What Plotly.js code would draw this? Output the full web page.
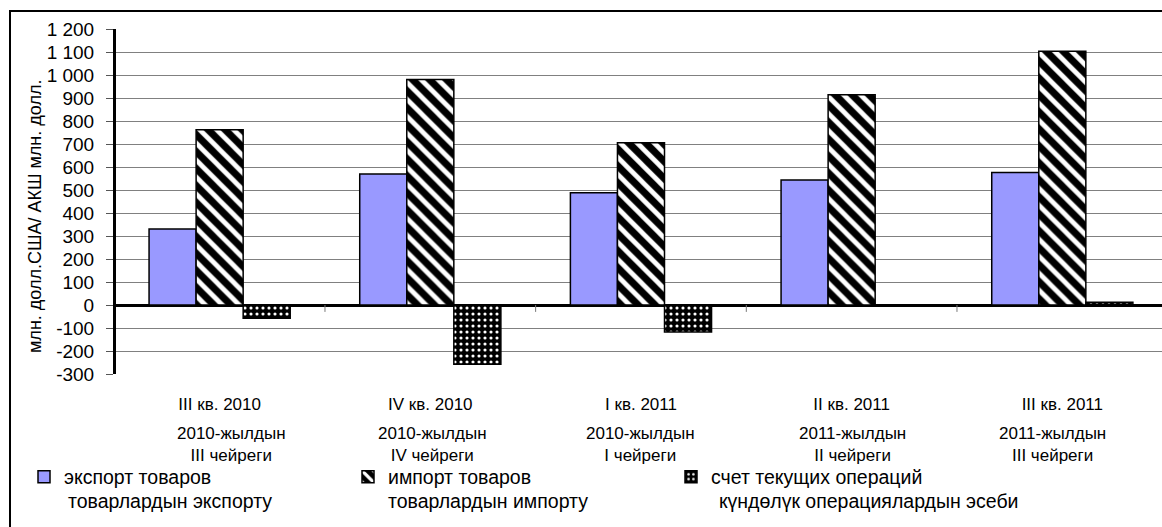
<!DOCTYPE html>
<html><head><meta charset="utf-8">
<script src="https://cdn.plot.ly/plotly-3.0.1.min.js"></script>
<style>html,body{margin:0;padding:0;background:#fff;}#chart{width:1162px;height:527px;}</style>
</head><body><div id="chart"></div>
<script>
// ---- data ----
const categories = ["III кв. 2010", "IV кв. 2010", "I кв. 2011", "II кв. 2011", "III кв. 2011"];
const categoriesKy = ["2010-жылдын<br>III чейреги", "2010-жылдын<br>IV чейреги", "2010-жылдын<br>I чейреги", "2011-жылдын<br>II чейреги", "2011-жылдын<br>III чейреги"];
const exportGoods = [330, 570, 488, 544, 576];
const importGoods = [762, 980, 705, 914, 1103];
const currentAccount = [-58, -258, -117, -5, 12];
const seriesNames = ["экспорт товаров", "импорт товаров", "счет текущих операций"];
const seriesNamesKy = ["товарлардын экспорту", "товарлардын импорту", "күндөлүк операциялардын эсеби"];
const yTickVals = [-300, -200, -100, 0, 100, 200, 300, 400, 500, 600, 700, 800, 900, 1000, 1100, 1200];
const yTickText = ["-300", "-200", "-100", "0", "100", "200", "300", "400", "500", "600", "700", "800", "900", "1 000", "1 100", "1 200"];
const yTitle = "млн. долл.США/ АКШ млн. долл.";

// ---- layout helpers ----
const W = 1162, H = 527, L = 116, R = 0, T = 29, B = 153;
const plotW = W - L - R, plotH = H - T - B;
const catW = 210.67;
const px = x => (x - L) / plotW;
const py = y => 1 - (y - T) / plotH;
const FONT = "Liberation Sans, Arial, sans-serif";
const x0 = -0.5 + (L - 114.3) / catW;

const outline = {color: "#000", width: 1.5};
const traces = [
  {type: "bar", name: seriesNames[0], x: categories, y: exportGoods, legend: "legend",
   marker: {color: "#9999FF", line: outline}},
  {type: "bar", name: seriesNames[1], x: categories, y: importGoods, legend: "legend2",
   marker: {color: "#000", line: outline,
            pattern: {shape: "\\", bgcolor: "#000", fgcolor: "#fff", size: 12, solidity: 0.4}}},
  {type: "bar", name: seriesNames[2], x: categories, y: currentAccount, legend: "legend3",
   marker: {color: "#000", line: outline,
            pattern: {shape: ".", bgcolor: "#000", fgcolor: "#fff", size: 6, solidity: 0.22}}}
];

const kyOffsets = [12, 2, 0, 1, -10];
const annotations = [];
categoriesKy.forEach((t, i) => annotations.push({
  xref: "x", yref: "paper", x: i + kyOffsets[i] / catW, y: py(444), yanchor: "middle", xanchor: "center",
  text: t, showarrow: false, font: {family: FONT, size: 17, color: "#000"}
}));
const kyLegendX = [66, 386, 717];
seriesNamesKy.forEach((t, i) => annotations.push({
  xref: "paper", yref: "paper", x: px(kyLegendX[i]), y: py(501), xanchor: "left", yanchor: "middle",
  text: t, showarrow: false, font: {family: FONT, size: 19.5, color: "#000"}
}));
annotations.push({
  xref: "paper", yref: "paper", x: px(35), y: py(217), xanchor: "center", yanchor: "middle",
  text: yTitle, textangle: -90, showarrow: false, font: {family: FONT, size: 18, color: "#000"}
});

const shapes = [
  {type: "rect", xref: "paper", yref: "paper", x0: px(10), x1: px(1200), y0: py(560), y1: py(11),
   line: {color: "#000", width: 2}, fillcolor: "rgba(0,0,0,0)", layer: "below"}
];
[0.5, 1.5, 2.5, 3.5].forEach(v => shapes.push({
  type: "line", xref: "x", yref: "y", x0: v, x1: v, y0: 0, y1: -30, line: {color: "#777", width: 1}
}));

const legendBase = {orientation: "h", bgcolor: "rgba(0,0,0,0)", borderwidth: 0,
  font: {family: FONT, size: 19.5, color: "#000"}, yanchor: "middle", y: py(477), xanchor: "left"};

const layout = {
  width: W, height: H,
  margin: {l: L, r: R, t: T, b: B, pad: 0},
  paper_bgcolor: "#fff", plot_bgcolor: "#fff",
  font: {family: FONT, color: "#000"},
  barmode: "group", bargap: 0.33, bargroupgap: 0,
  showlegend: true,
  legend: Object.assign({}, legendBase, {x: px(24)}),
  legend2: Object.assign({}, legendBase, {x: px(348)}),
  legend3: Object.assign({}, legendBase, {x: px(671)}),
  xaxis: {type: "category", range: [x0, x0 + plotW / catW], showgrid: false, zeroline: false,
          showline: false, ticks: "", ticklabelstandoff: 18,
          tickfont: {family: FONT, size: 17, color: "#000"}, fixedrange: true},
  yaxis: {range: [-300, 1200], tickvals: yTickVals, ticktext: yTickText,
          showgrid: true, gridcolor: "#808080", gridwidth: 1,
          zeroline: true, zerolinecolor: "#000", zerolinewidth: 3,
          showline: true, linecolor: "#000", linewidth: 3,
          ticks: "outside", ticklen: 7, tickcolor: "#555", tickwidth: 1, ticklabelstandoff: 8,
          tickfont: {family: FONT, size: 19, color: "#000"}, fixedrange: true},
  annotations: annotations,
  shapes: shapes
};

Plotly.newPlot("chart", traces, layout, {staticPlot: true, displayModeBar: false});
</script>
</body></html>
